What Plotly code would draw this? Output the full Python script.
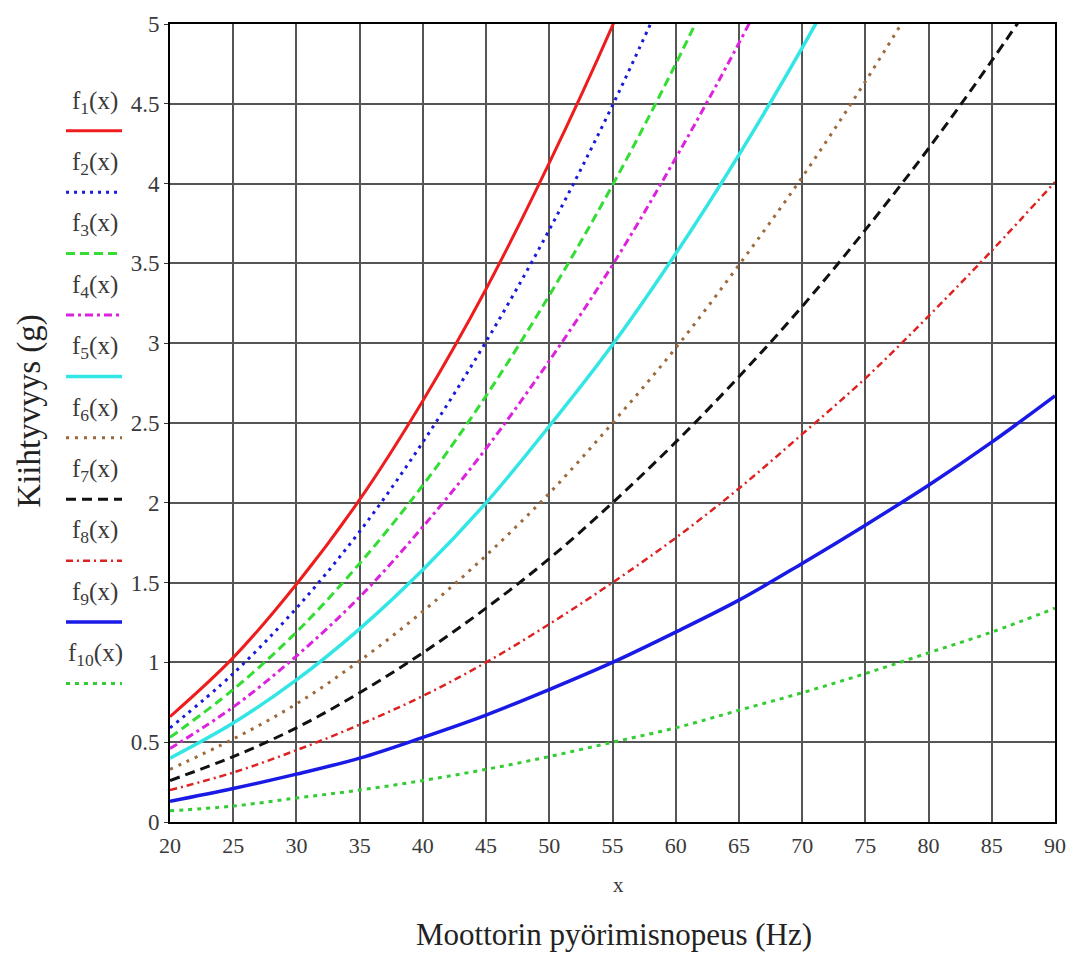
import plotly.graph_objects as go

# ---------------- data ----------------
x_hz = [20, 25, 30, 35, 40, 45, 50, 55, 60, 65, 70, 75, 80, 85, 90]

f1 = [0.66, 1.03, 1.49, 2.02, 2.64, 3.34, 4.13, 4.99, 5.94]
f2 = [0.59, 0.93, 1.34, 1.82, 2.38, 3.01, 3.71, 4.49, 5.35]
f3 = [0.53, 0.83, 1.19, 1.62, 2.11, 2.67, 3.30, 3.99, 4.75, 5.58]
f4 = [0.46, 0.72, 1.04, 1.41, 1.85, 2.34, 2.89, 3.49, 4.16, 4.88, 5.66]
f5 = [0.40, 0.62, 0.89, 1.21, 1.58, 2.00, 2.48, 2.99, 3.56, 4.18, 4.85, 5.57]
f6 = [0.33, 0.52, 0.74, 1.01, 1.32, 1.67, 2.06, 2.50, 2.97, 3.49, 4.04, 4.64, 5.28]
f7 = [0.26, 0.41, 0.59, 0.81, 1.06, 1.34, 1.65, 2.00, 2.38, 2.79, 3.23, 3.71, 4.22, 4.77, 5.35]
f8 = [0.20, 0.31, 0.45, 0.61, 0.79, 1.00, 1.24, 1.50, 1.78, 2.09, 2.43, 2.78, 3.17, 3.58, 4.01]
f9 = [0.13, 0.21, 0.30, 0.40, 0.53, 0.67, 0.83, 1.00, 1.19, 1.39, 1.62, 1.86, 2.11, 2.38, 2.67]
f10 = [0.07, 0.10, 0.15, 0.20, 0.26, 0.33, 0.41, 0.50, 0.59, 0.70, 0.81, 0.93, 1.06, 1.19, 1.34]

series_values = [f1, f2, f3, f4, f5, f6, f7, f8, f9, f10]
series_labels = [f"f<sub>{i}</sub>(x)" for i in range(1, 11)]

x_ticks = [20, 25, 30, 35, 40, 45, 50, 55, 60, 65, 70, 75, 80, 85, 90]
y_ticks = [0, 0.5, 1, 1.5, 2, 2.5, 3, 3.5, 4, 4.5, 5]
y_tick_text = ["0", "0.5", "1", "1.5", "2", "2.5", "3", "3.5", "4", "4.5", "5"]

x_label = "x"
x_title = "Moottorin pyörimisnopeus (Hz)"
y_title = "Kiihtyvyys (g)"

# ---------------- styles ----------------
styles = [
    dict(color="#ee1c1c", dash="solid", width=3),
    dict(color="#1a1adc", dash="3px,5px", width=3),
    dict(color="#33dd33", dash="9px,5px", width=3),
    dict(color="#dd22dd", dash="8px,4px,3px,4px", width=3),
    dict(color="#33e6e6", dash="solid", width=3.5),
    dict(color="#9c6a3c", dash="3px,6px", width=3),
    dict(color="#111111", dash="10px,6px", width=3),
    dict(color="#dd2222", dash="7px,4px,2px,4px", width=2.5),
    dict(color="#1a1ae6", dash="solid", width=3.5),
    dict(color="#33cc33", dash="4px,5px", width=3),
]

FONT = "Liberation Serif, Times New Roman, serif"
TXT = "#3a3a3a"

W, H = 1088, 956
L, R, T, B = 170, 1055, 15, 822   # plot area in pixels


def px_x(px):
    return (px - L) / (R - L)


def px_y(py):
    return (B - py) / (B - T)


fig = go.Figure()
for vals, lab, st in zip(series_values, series_labels, styles):
    fig.add_trace(go.Scatter(
        x=x_hz[:len(vals)], y=vals, mode="lines", name=lab,
        line=dict(color=st["color"], dash=st["dash"], width=st["width"],
                  shape="spline", smoothing=1.0),
        showlegend=False, hoverinfo="skip"))

# manual legend: label above a line sample
leg_line0, leg_step = 123, 62.1
for i, (lab, st) in enumerate(zip(series_labels, styles)):
    ly = leg_line0 + leg_step * i
    fig.add_shape(type="line", xref="paper", yref="paper",
                  x0=px_x(66), x1=px_x(122), y0=px_y(ly), y1=px_y(ly),
                  line=dict(color=st["color"], dash=st["dash"], width=st["width"]))
    fig.add_annotation(xref="paper", yref="paper", x=px_x(95), y=px_y(ly - 29),
                       text=lab, showarrow=False, xanchor="center", yanchor="middle",
                       font=dict(family=FONT, size=25, color=TXT))

fig.add_annotation(xref="paper", yref="paper", x=px_x(614), y=px_y(936),
                   text=x_title, showarrow=False, xanchor="center", yanchor="middle",
                   font=dict(family=FONT, size=31, color="#222"))
fig.add_annotation(xref="paper", yref="paper", x=px_x(618), y=px_y(886),
                   text=x_label, showarrow=False, xanchor="center", yanchor="middle",
                   font=dict(family=FONT, size=21, color=TXT))
fig.add_annotation(xref="paper", yref="paper", x=px_x(30), y=px_y(407),
                   text=y_title, showarrow=False, textangle=-90,
                   xanchor="center", yanchor="middle",
                   font=dict(family=FONT, size=33, color="#222"))

fig.update_xaxes(range=[20, 90], tickvals=x_ticks, ticktext=[str(v) for v in x_ticks],
                 showgrid=True, gridcolor="#555", gridwidth=1.5,
                 showline=True, linecolor="black", linewidth=2, mirror=True,
                 ticks="", zeroline=False, ticklabelstandoff=3,
                 tickfont=dict(family=FONT, size=22, color=TXT))
fig.update_yaxes(range=[0, 5], tickvals=y_ticks, ticktext=y_tick_text,
                 showgrid=True, gridcolor="#555", gridwidth=1.5,
                 showline=True, linecolor="black", linewidth=2, mirror=True,
                 ticks="outside", ticklen=4, tickcolor="#333", zeroline=False,
                 tickfont=dict(family=FONT, size=23, color=TXT))

fig.update_layout(width=W, height=H,
                  margin=dict(l=L, r=W - R, t=T, b=H - B),
                  plot_bgcolor="white", paper_bgcolor="white",
                  showlegend=False)

fig.write_html("out.html")
